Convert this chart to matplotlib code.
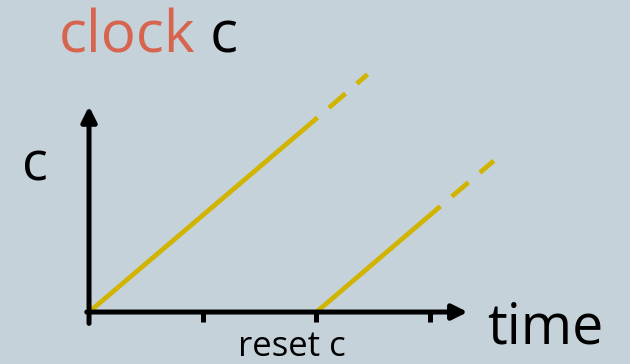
import matplotlib
matplotlib.use("Agg")
import matplotlib.pyplot as plt

# clock value ramps (time, c); first ramp starts at 0, reset at t=2
ramp1_t = [0.0, 2.01]
ramp1_c = [0.0, 1.71]
ramp1_more_t = [2.01, 2.45]
ramp1_more_c = [1.71, 2.09]

ramp2_t = [2.0, 3.09]
ramp2_c = [0.0, 0.93]
ramp2_more_t = [3.09, 3.56]
ramp2_more_c = [0.93, 1.33]

tick_pos = [1, 2, 3]

bg = "#c6d2d9"
yellow = "#d1b400"
red = "#d6644e"
plt.rcParams['font.family'] = ['Open Sans', 'DejaVu Sans']
plt.rcParams['lines.scale_dashes'] = False

fig = plt.figure(figsize=(6.3, 3.64), dpi=100)
fig.patch.set_facecolor(bg)
ax = fig.add_axes([0, 0, 1, 1])
ax.set_facecolor(bg)
ax.set_xlim(-0.783, 4.758)
ax.set_ylim(-0.457, 2.744)
ax.axis("off")

# axes with arrow heads
ax.annotate("", xy=(3.33, 0), xytext=(-0.02, 0),
            arrowprops=dict(arrowstyle="-|>,head_length=0.9,head_width=0.45",
                            lw=3.6, color="black", shrinkA=0, shrinkB=0))
ax.annotate("", xy=(0, 1.81), xytext=(0, -0.1),
            arrowprops=dict(arrowstyle="-|>,head_length=0.9,head_width=0.45",
                            lw=3.6, color="black", shrinkA=0, shrinkB=0))
for t in tick_pos:
    ax.plot([t, t], [0, -0.09], color="black", lw=3.6, solid_capstyle="butt")

# clock ramps
ax.plot(ramp1_t, ramp1_c, color=yellow, lw=3.4, solid_capstyle="butt")
ax.plot(ramp1_more_t, ramp1_more_c, color=yellow, lw=3.4,
        linestyle=(15.8, (15.8, 10.8)), dash_capstyle="butt")
ax.plot(ramp2_t, ramp2_c, color=yellow, lw=3.4, solid_capstyle="butt")
ax.plot(ramp2_more_t, ramp2_more_c, color=yellow, lw=3.4,
        linestyle=(15.8, (15.8, 10.8)), dash_capstyle="butt")

# labels
ax.text(-0.59, 1.161, "c", fontsize=39, ha="left", va="baseline")
ax.text(3.50, -0.273, "time", fontsize=40, ha="left", va="baseline")
ax.text(1.31, -0.385, "reset c", fontsize=25, ha="left", va="baseline")

t1 = ax.text(-0.27, 2.278, "clock", fontsize=42, color=red, ha="left", va="baseline")
ax.annotate(" c", xycoords=t1, xy=(1, 0), va="bottom", fontsize=42, color="black")

fig.savefig("out.png", dpi=100, facecolor=bg)
